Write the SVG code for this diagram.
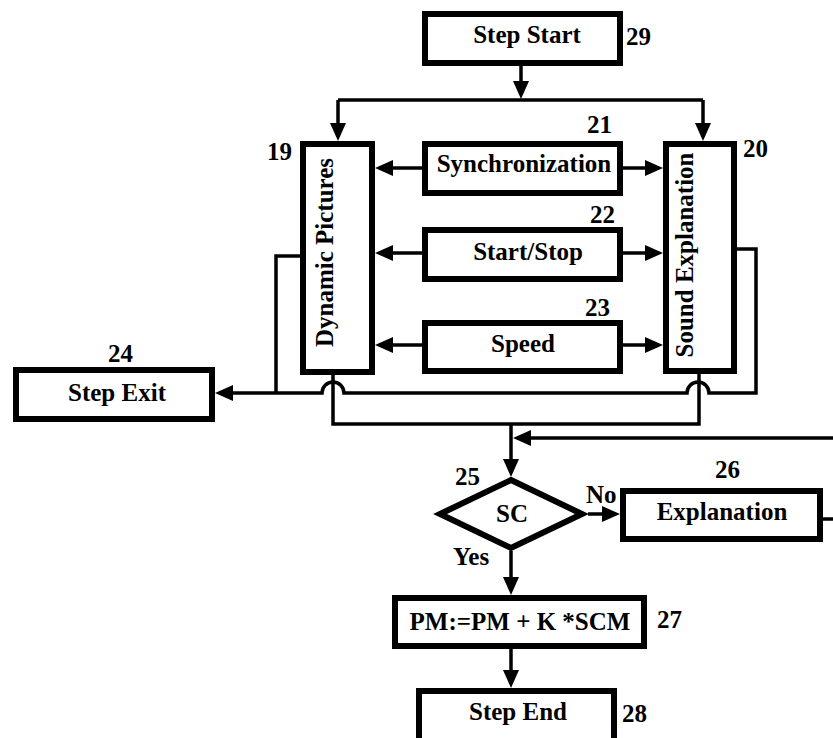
<svg xmlns="http://www.w3.org/2000/svg" width="833" height="738" viewBox="0 0 833 738">
<style>
.box{fill:#fff;stroke:#000;stroke-width:6}
.ln{fill:none;stroke:#000;stroke-width:3.5}
.ar{fill:none;stroke:#000;stroke-width:3.5;marker-end:url(#ah)}
text{font-family:"Liberation Serif","Times New Roman",serif;font-weight:bold;font-size:25px;fill:#000}
.c{text-anchor:middle}
</style>
<defs>
<marker id="ah" markerUnits="userSpaceOnUse" markerWidth="18" markerHeight="16" refX="14" refY="8" orient="auto" overflow="visible">
<path d="M0,0 L18,8 L0,16 z" fill="#000"/>
</marker>
</defs>
<rect width="833" height="738" fill="#fff"/>
<g id="connectors">
<path class="ar" d="M521 66 V95"/>
<path class="ln" d="M338 100 H703"/>
<path class="ar" d="M338 100 V137"/>
<path class="ar" d="M703 100 V137"/>
<path class="ar" d="M422 168 H379"/>
<path class="ar" d="M623 168 H659"/>
<path class="ar" d="M422 253 H379"/>
<path class="ar" d="M623 253 H659"/>
<path class="ar" d="M422 345 H379"/>
<path class="ar" d="M623 345 H659"/>
<path class="ar" d="M352 180 V314"/>
<path class="ar" d="M714 190 V324"/>
<path class="ln" d="M300 256 H276 V393"/>
<path class="ar" d="M737 249 H756 V393 H709 A11 11 0 0 0 687 393 H344 A11 11 0 0 0 322 393 H219"/>
<path class="ln" d="M333 374 V424 H699 V373"/>
<path class="ar" d="M511 424 V473"/>
<path class="ar" d="M823 519 H850 V438 H517"/>
<path class="ar" d="M588 514 H616"/>
<path class="ar" d="M511 551 V591"/>
<path class="ar" d="M511 649 V684"/>
</g>
<g id="n29"><rect class="box" x="425" y="14" width="195" height="49"/><text class="c" x="527" y="43">Step Start</text><text x="626" y="45">29</text></g>
<g id="n19"><rect class="box" x="303" y="144" width="69" height="228"/><text class="c" transform="translate(333,252.5) rotate(-90)">Dynamic Pictures</text><text x="267" y="160">19</text></g>
<g id="n20"><rect class="box" x="666" y="144" width="68" height="227"/><text class="c" transform="translate(693,255) rotate(-90)">Sound Explanation</text><text x="743" y="157">20</text></g>
<g id="n21"><rect class="box" x="425" y="144" width="195" height="49"/><text class="c" x="524" y="172">Synchronization</text><text x="587" y="133">21</text></g>
<g id="n22"><rect class="box" x="425" y="230" width="195" height="49"/><text class="c" x="528" y="260">Start/Stop</text><text x="590" y="223">22</text></g>
<g id="n23"><rect class="box" x="425" y="323" width="195" height="48"/><text class="c" x="523" y="352">Speed</text><text x="585" y="316">23</text></g>
<g id="n24"><rect class="box" x="16" y="370" width="196" height="49"/><text class="c" x="117" y="401">Step Exit</text><text x="108" y="362">24</text></g>
<g id="n25"><polygon class="box" points="511,480 582,514 511,548 440,514"/><text class="c" x="512" y="522">SC</text><text x="455" y="485">25</text><text x="586" y="503">No</text><text x="453" y="565">Yes</text></g>
<g id="n26"><rect class="box" x="623" y="491" width="197" height="48"/><text class="c" x="722" y="520">Explanation</text><text x="715" y="478">26</text></g>
<g id="n27"><rect class="box" x="395" y="598" width="249" height="48"/><text class="c" x="520" y="630">PM:=PM + K *SCM</text><text x="657" y="628">27</text></g>
<g id="n28"><rect class="box" x="419" y="691" width="195" height="52"/><text class="c" x="518" y="720">Step End</text><text x="622" y="722">28</text></g>
</svg>
